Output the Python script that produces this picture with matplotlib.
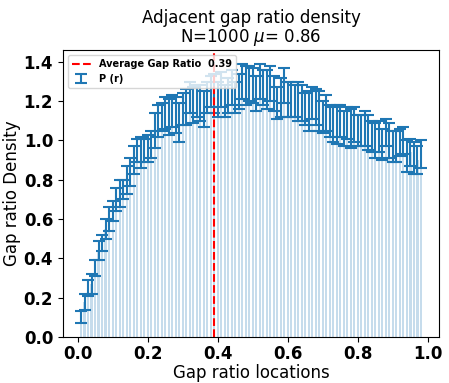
import matplotlib
matplotlib.use("Agg")
import matplotlib.pyplot as plt
import numpy as np

# gap ratio bin locations and density values
r = np.arange(1, 99) / 100.0
density = [
    0.10, 0.18, 0.25, 0.27, 0.35, 0.44, 0.48, 0.55, 0.60, 0.64,
    0.70, 0.73, 0.75, 0.80, 0.84, 0.90, 0.95, 0.94, 0.95, 0.96,
    0.98, 1.05, 1.10, 1.12, 1.14, 1.12, 1.15, 1.13, 1.09, 1.16,
    1.17, 1.22, 1.18, 1.20, 1.19, 1.16, 1.22, 1.25, 1.24, 1.21,
    1.26, 1.20, 1.23, 1.27, 1.22, 1.25, 1.30, 1.28, 1.29, 1.28,
    1.24, 1.30, 1.27, 1.26, 1.29, 1.24, 1.19, 1.22, 1.28, 1.21,
    1.21, 1.20, 1.20, 1.19, 1.16, 1.15, 1.19, 1.17, 1.15, 1.12,
    1.14, 1.10, 1.08, 1.08, 1.10, 1.06, 1.09, 1.06, 1.08, 1.05,
    1.05, 1.06, 1.04, 1.02, 1.00, 1.02, 0.98, 1.04, 1.00, 0.97,
    0.97, 0.99, 1.00, 0.92, 0.94, 0.91, 0.90, 0.93,
]
errors = [
    0.03, 0.04, 0.04, 0.05, 0.04, 0.05, 0.04, 0.05, 0.06, 0.05,
    0.06, 0.07, 0.05, 0.07, 0.07, 0.07, 0.06, 0.08, 0.06, 0.07,
    0.07, 0.09, 0.08, 0.07, 0.08, 0.09, 0.08, 0.09, 0.10, 0.08,
    0.09, 0.08, 0.09, 0.08, 0.09, 0.09, 0.08, 0.08, 0.10, 0.09,
    0.09, 0.08, 0.09, 0.09, 0.08, 0.09, 0.09, 0.10, 0.09, 0.09,
    0.09, 0.09, 0.09, 0.10, 0.09, 0.09, 0.08, 0.10, 0.09, 0.09,
    0.09, 0.08, 0.10, 0.09, 0.08, 0.10, 0.08, 0.09, 0.10, 0.08,
    0.09, 0.08, 0.09, 0.10, 0.08, 0.09, 0.08, 0.10, 0.09, 0.08,
    0.08, 0.09, 0.09, 0.08, 0.09, 0.08, 0.08, 0.07, 0.09, 0.08,
    0.08, 0.07, 0.07, 0.08, 0.07, 0.08, 0.07, 0.07,
]
avg_ratio = 0.39

fig = plt.figure(figsize=(4.49, 3.83), dpi=100)
ax = fig.add_axes([0.140, 0.120, 0.838, 0.749])

ax.bar(r, density, width=0.006, color="tab:blue", alpha=0.25)
ax.errorbar(r, density, yerr=errors, fmt="none", ecolor="tab:blue",
            elinewidth=1.5, capsize=4, capthick=1.5, label="P (r)")
ax.axvline(avg_ratio, color="red", linestyle="--", linewidth=1.5,
           label=f"Average Gap Ratio  {avg_ratio}")

ax.set_title("Adjacent gap ratio density\nN=1000 $\\mu$= 0.86", fontsize=12,
             linespacing=1.0)
ax.set_xlabel("Gap ratio locations", fontsize=12, labelpad=1)
ax.set_ylabel("Gap ratio Density", fontsize=12, labelpad=2)
ax.set_xticks([0.0, 0.2, 0.4, 0.6, 0.8, 1.0])
ax.set_yticks([0.0, 0.2, 0.4, 0.6, 0.8, 1.0, 1.2, 1.4])
ax.tick_params(axis="x", pad=2)
for lbl in ax.get_xticklabels() + ax.get_yticklabels():
    lbl.set_fontweight("bold")
    lbl.set_fontsize(12)
ax.legend(loc="upper left", prop={"weight": "bold", "size": 7})

fig.savefig("out.png", dpi=100)
